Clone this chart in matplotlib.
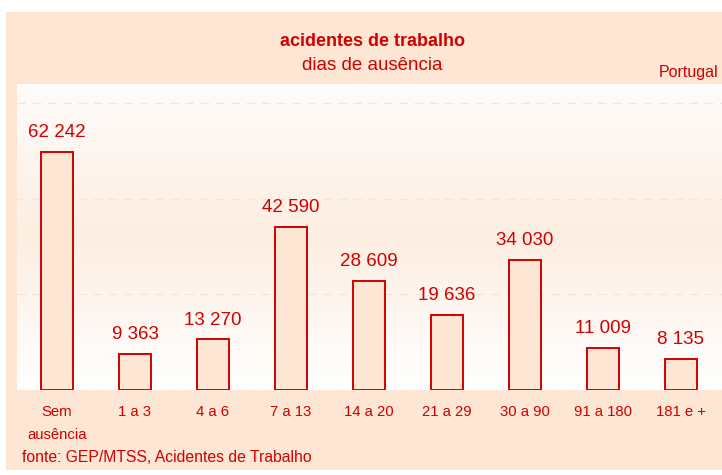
import matplotlib
matplotlib.use("Agg")
import matplotlib.pyplot as plt
import numpy as np
from matplotlib.colors import LinearSegmentedColormap
from matplotlib.patches import Rectangle

categories = ["Sem\nausência", "1 a 3", "4 a 6", "7 a 13", "14 a 20", "21 a 29", "30 a 90", "91 a 180", "181 e +"]
values = [62242, 9363, 13270, 42590, 28609, 19636, 34030, 11009, 8135]
value_labels = ["62 242", "9 363", "13 270", "42 590", "28 609", "19 636", "34 030", "11 009", "8 135"]

RED = "#D10000"
PEACH = "#FDE6D3"
plt.rcParams['font.family'] = ['Liberation Sans', 'DejaVu Sans']

fig = plt.figure(figsize=(7.22, 4.75), dpi=100)
fig.patch.set_facecolor("white")
# peach panel
fig.add_artist(Rectangle((6/722, 1-470/475), 1-6/722, (470-12)/475, transform=fig.transFigure,
                         facecolor=PEACH, edgecolor="none", zorder=0))

ax = fig.add_axes([17/722, 1-390/475, 1-17/722, (390-84)/475])
ax.set_xlim(-0.513, 8.53)
ax.set_ylim(0, 80000)

# gradient background
cmap = LinearSegmentedColormap.from_list("g", [(0, "#FFFFFF"), (0.5, "#FDEEE2"), (1.0, "#FFFCFA")])
grad = np.linspace(0, 1, 256).reshape(-1, 1)
ax.imshow(grad, aspect="auto", cmap=cmap, extent=(-0.513, 8.53, 0, 80000), origin="lower", zorder=0)

for y in [0, 25000, 50000, 75000]:
    ax.axhline(y, color="#FBE3D0", lw=1.0, ls=(0, (6, 5)), zorder=1)

x = np.arange(len(values))
ax.bar(x, values, width=0.41, color=PEACH, edgecolor=RED, linewidth=1.4, zorder=2)
for xi, v, lab in zip(x, values, value_labels):
    ax.text(xi, v + 2800, lab, ha="center", va="bottom", color=RED, fontsize=13.5, zorder=3)

ax.set_xticks(x)
ax.set_xticklabels(categories, color=RED, fontsize=10.7, linespacing=1.75)
ax.tick_params(axis="x", length=0, pad=11)
ax.set_yticks([])
for s in ax.spines.values():
    s.set_visible(False)

fig.text(372/722, 1-42/475, "acidentes de trabalho", ha="center", va="center", color=RED,
         fontsize=13, fontweight="bold")
fig.text(372/722, 1-66/475, "dias de ausência", ha="center", va="center", color=RED, fontsize=13.5)
fig.text(718/722, 1-73/475, "Portugal", ha="right", va="center", color=RED, fontsize=11.5)
fig.text(22/722, 1-457/475, "fonte: GEP/MTSS, Acidentes de Trabalho", ha="left", va="center",
         color=RED, fontsize=11.3)

fig.savefig("out.png", dpi=100, facecolor="white")
